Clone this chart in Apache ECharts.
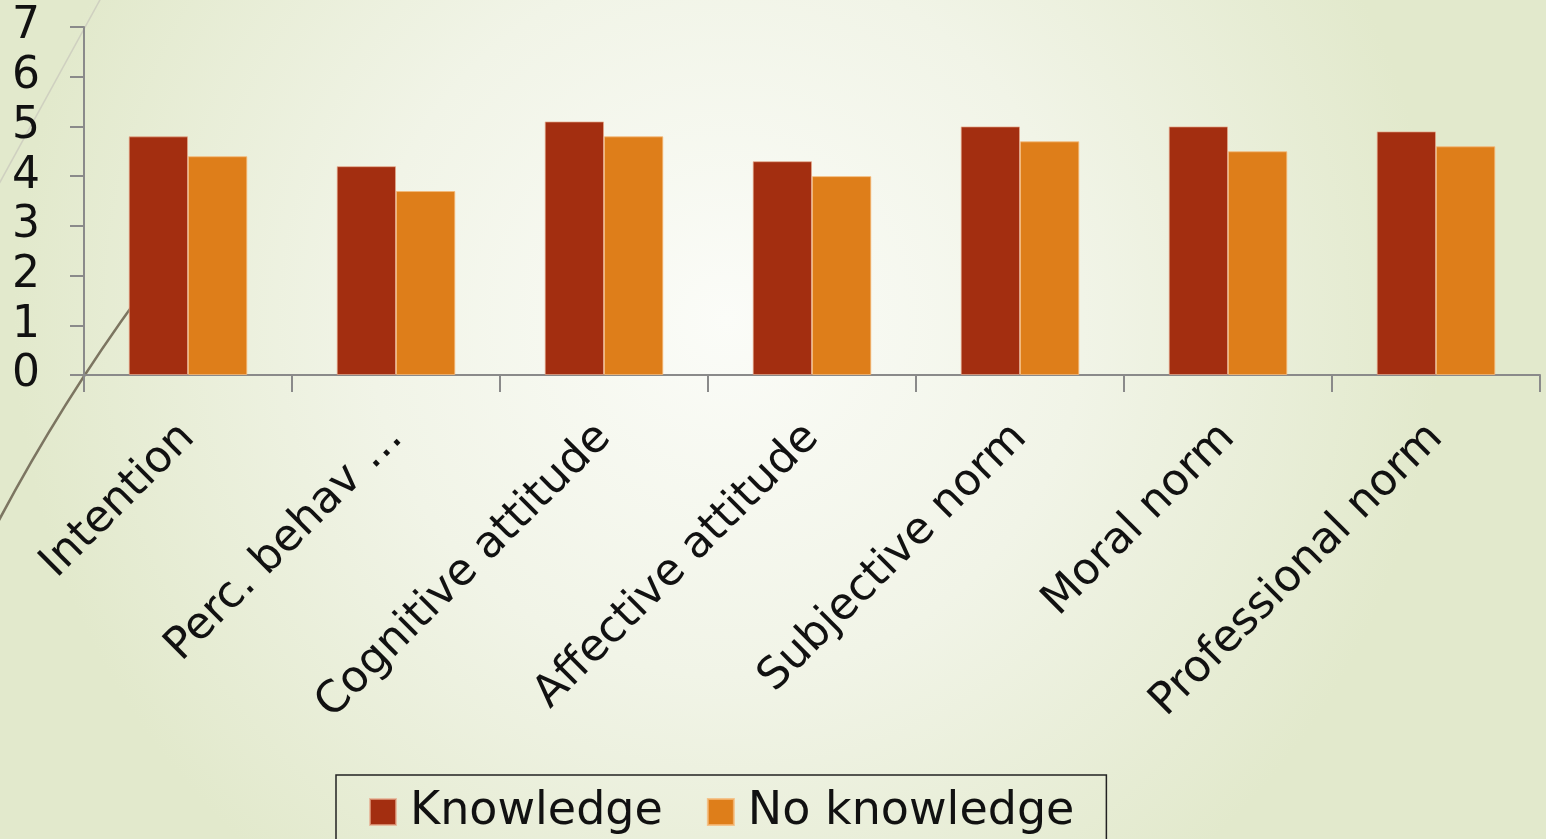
<!DOCTYPE html>
<html>
<head>
<meta charset="utf-8">
<script src="https://cdn.jsdelivr.net/npm/echarts@6/dist/echarts.min.js"></script>
<style>
html,body{margin:0;padding:0;width:1546px;height:839px;overflow:hidden;}
#main{width:1546px;height:839px;}
</style>
</head>
<body>
<div id="main"></div>
<script>
const categories = ['Intention', 'Perc. behav …', 'Cognitive attitude', 'Affective attitude', 'Subjective norm', 'Moral norm', 'Professional norm'];
const knowledge = [4.8, 4.2, 5.1, 4.3, 5.0, 5.0, 4.9];
const noKnowledge = [4.4, 3.7, 4.8, 4.0, 4.7, 4.5, 4.6];
const yTicks = [0, 1, 2, 3, 4, 5, 6, 7];

const chart = echarts.init(document.getElementById('main'));
const font = 'DejaVu Sans';
chart.setOption({
  backgroundColor: {
    type: 'radial', x: 0.47, y: 0.38, r: 0.85,
    colorStops: [{offset: 0, color: '#fbfcf8'}, {offset: 0.5, color: '#f1f4e7'}, {offset: 1, color: '#e2e9cc'}]
  },
  animation: false,
  graphic: [
    {type: 'line', z: 0, shape: {x1: 101, y1: -2, x2: -1, y2: 184}, style: {stroke: '#cfd0c0', lineWidth: 1.5}},
    {type: 'bezierCurve', z: 0, shape: {x1: 140, y1: 295, cpx1: 60, cpy1: 405, x2: -2, y2: 522}, style: {stroke: '#7c7561', lineWidth: 2.5, fill: null}}
  ],
  grid: {left: 84, right: 6, top: 27, bottom: 464, containLabel: false},
  legend: {
    left: 336, top: 775,
    orient: 'horizontal',
    borderColor: '#222', borderWidth: 1.5,
    padding: [14, 32, 12, 33],
    itemWidth: 26, itemHeight: 26, itemGap: 44,
    icon: 'rect',
    textStyle: {fontFamily: font, fontSize: 46, color: '#111', padding: [0, 0, 0, 9]},
    data: ['Knowledge', 'No knowledge']
  },
  xAxis: {
    type: 'category', data: categories,
    axisLine: {lineStyle: {color: '#8a8a8a', width: 2}},
    axisTick: {show: true, length: 17, lineStyle: {color: '#8a8a8a', width: 2}},
    axisLabel: {rotate: 45, interval: 0, margin: 56, fontFamily: font, fontSize: 44, color: '#111'},
    splitLine: {show: false}
  },
  yAxis: {
    type: 'value', min: 0, max: 7, interval: 1,
    axisLine: {show: true, lineStyle: {color: '#8a8a8a', width: 2}},
    axisTick: {show: true, length: 14, lineStyle: {color: '#8a8a8a', width: 2}},
    axisLabel: {margin: 44, fontFamily: font, fontSize: 44, color: '#111',
      formatter: v => yTicks.includes(v) ? String(v) : ''},
    splitLine: {show: false}
  },
  series: [
    {name: 'Knowledge', type: 'bar', data: knowledge, barGap: '0%', barCategoryGap: '43%',
     itemStyle: {color: '#a32e10', borderColor: 'rgba(230,170,140,0.7)', borderWidth: 1}},
    {name: 'No knowledge', type: 'bar', data: noKnowledge,
     itemStyle: {color: '#de7e1a', borderColor: 'rgba(245,185,120,0.8)', borderWidth: 1}}
  ]
});
</script>
</body>
</html>
